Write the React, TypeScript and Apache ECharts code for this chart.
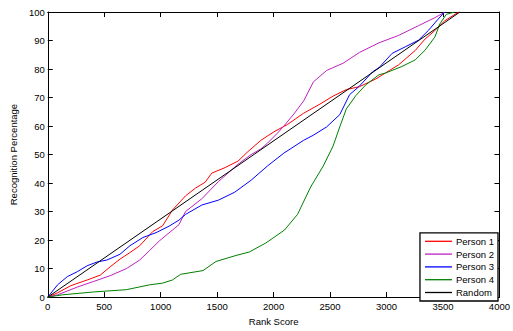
import React, { useEffect, useRef } from "react";
import * as echarts from "echarts";

const seriesNames = ["Person 1", "Person 2", "Person 3", "Person 4", "Random"];

const person1: [number, number][] = [
  [0, 0], [87, 1.5], [204, 4], [349, 6], [465, 7.7], [552, 10.6], [639, 13.3], [727, 15.6],
  [814, 18], [930, 23], [1017, 25], [1104, 30.5], [1220, 35.5], [1307, 38.2], [1394, 40.3],
  [1453, 43.5], [1569, 45.4], [1685, 47.7], [1772, 51], [1888, 55], [2004, 58], [2121, 60.5],
  [2266, 64.5], [2411, 67.7], [2527, 70.5], [2644, 72.8], [2760, 73.8], [2905, 76.5],
  [3026, 79.5], [3108, 81.5], [3254, 86.5], [3341, 90.5], [3428, 93.5], [3515, 96.9],
  [3631, 99.8], [3650, 100],
];

const person2: [number, number][] = [
  [0, 0], [87, 0.8], [261, 3.5], [407, 5.5], [552, 7.5], [697, 10], [814, 13], [901, 16.3],
  [988, 19.7], [1104, 23.5], [1162, 25.4], [1220, 30], [1365, 34.5], [1511, 40.5],
  [1685, 46.6], [1801, 50], [1888, 52], [1946, 54], [2034, 57.5], [2091, 60], [2179, 64.2],
  [2266, 68.8], [2353, 75.5], [2470, 79.5], [2614, 82], [2760, 85.8], [2934, 89.2],
  [3108, 91.8], [3283, 95.2], [3428, 98], [3520, 100],
];

const person3: [number, number][] = [
  [0, 0], [87, 4.3], [174, 7.2], [261, 8.9], [349, 11], [436, 12.3], [523, 13], [639, 15],
  [727, 18], [843, 20.9], [959, 22.6], [1075, 24.9], [1162, 27], [1220, 29], [1365, 32.3],
  [1511, 34], [1656, 36.8], [1801, 41], [1946, 46], [2091, 50.5], [2266, 55], [2353, 56.8],
  [2470, 59.7], [2586, 64], [2673, 71], [2760, 74], [2876, 79], [2934, 80.5], [3050, 85.5],
  [3167, 87.8], [3283, 90.1], [3370, 93.5], [3457, 97.5], [3515, 100],
];

const person4: [number, number][] = [
  [0, 0], [130, 0.8], [407, 1.8], [697, 2.6], [901, 4.3], [1017, 4.9], [1104, 6], [1177, 8],
  [1375, 9.3], [1490, 12.5], [1667, 14.6], [1784, 15.8], [1932, 19], [2096, 23.5],
  [2212, 29], [2328, 38.6], [2440, 46], [2527, 53], [2586, 59.7], [2644, 66], [2731, 70.8],
  [2818, 74.5], [2934, 78], [2992, 78.6], [3137, 80.9], [3254, 83.2], [3341, 86.6],
  [3428, 91.2], [3472, 95.8], [3530, 99.2], [3603, 100],
];

const randomLine: [number, number][] = [
  [0, 0], [3650, 100],
];

const seriesData = [person1, person2, person3, person4, randomLine];
const colors = ["#ff0000", "#c020c0", "#0000ff", "#008000", "#000000"];

const FONT = "Liberation Sans, Arial, sans-serif";

export default function App() {
  const ref = useRef<HTMLDivElement>(null);
  useEffect(() => {
    if (!ref.current) return;
    const chart = echarts.init(ref.current, undefined, { renderer: "svg" });
    const axisCommon = {
      axisLine: { show: true, onZero: false, lineStyle: { color: "#000", width: 1 } },
      axisTick: { show: true, inside: true, length: 5, lineStyle: { color: "#000" } },
      splitLine: { show: false },
    };
    chart.setOption({
      animation: false,
      backgroundColor: "#fff",
      textStyle: { fontFamily: FONT },
      grid: { left: 43, right: 11, top: 12, bottom: 27, containLabel: false },
      xAxis: [
        {
          type: "value", min: 0, max: 4000, interval: 500, position: "bottom",
          ...axisCommon,
          axisLabel: {
            color: "#000", fontSize: 9.5, fontFamily: FONT, margin: 4,
            formatter: (v: number) => String(v),
          },
          name: "Rank Score", nameLocation: "middle", nameGap: 15,
          nameTextStyle: { color: "#000", fontSize: 9.5, fontFamily: FONT },
        },
        {
          type: "value", min: 0, max: 4000, interval: 500, position: "top",
          ...axisCommon,
          axisLabel: { show: false },
        },
      ],
      yAxis: [
        {
          type: "value", min: 0, max: 100, interval: 10, position: "left",
          ...axisCommon,
          axisLabel: {
            color: "#000", fontSize: 9.5, fontFamily: FONT, margin: 3,
            formatter: (v: number) => String(v),
          },
          name: "Recognition Percentage", nameLocation: "middle", nameGap: 26,
          nameTextStyle: { color: "#000", fontSize: 9.5, fontFamily: FONT },
        },
        {
          type: "value", min: 0, max: 100, interval: 10, position: "right",
          ...axisCommon,
          axisLabel: { show: false },
        },
      ],
      legend: {
        data: seriesNames.map((name) => ({ name, icon: "rect" })),
        orient: "vertical",
        right: 15,
        bottom: 30,
        itemWidth: 27,
        itemHeight: 1.3,
        itemGap: 1.8,
        padding: [3, 4, 3, 5],
        borderColor: "#000",
        borderWidth: 1.3,
        backgroundColor: "#fff",
        textStyle: {
          color: "#000", fontSize: 9.5, fontFamily: FONT, lineHeight: 11,
          padding: [0, 0, 0, -1],
        },
      },
      series: seriesNames.map((name, i) => ({
        name,
        type: "line",
        data: seriesData[i],
        xAxisIndex: 0,
        yAxisIndex: 0,
        symbol: "none",
        showSymbol: false,
        smooth: false,
        color: colors[i],
        itemStyle: { color: colors[i] },
        lineStyle: { color: colors[i], width: 1 },
        z: i === 4 ? 3 : 2,
      })),
    });
    return () => chart.dispose();
  }, []);
  return (
    <div
      ref={ref}
      style={{ position: "fixed", left: 0, top: 0, width: 513, height: 331 }}
    />
  );
}
